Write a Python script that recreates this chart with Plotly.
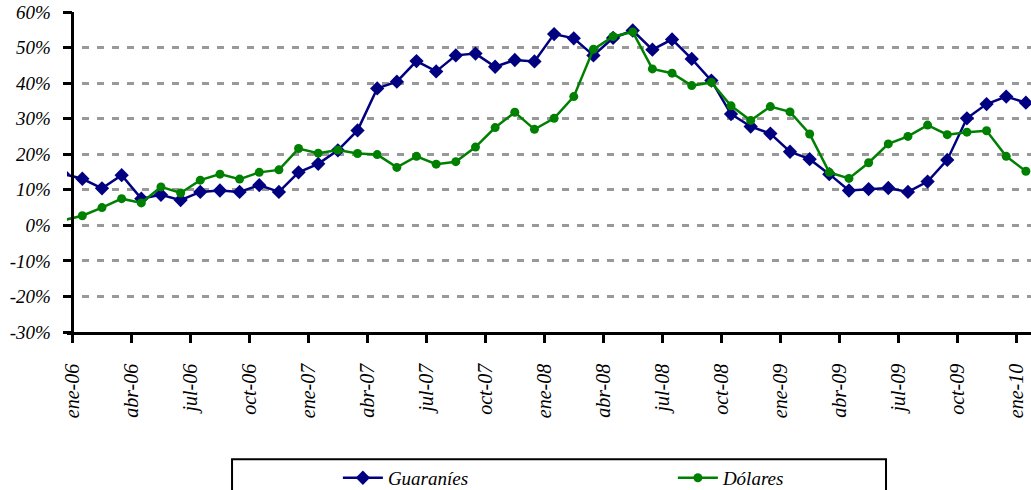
import plotly.graph_objects as go

months = ["dic-05",
          "ene-06", "feb-06", "mar-06", "abr-06", "may-06", "jun-06", "jul-06", "ago-06", "sep-06", "oct-06", "nov-06", "dic-06",
          "ene-07", "feb-07", "mar-07", "abr-07", "may-07", "jun-07", "jul-07", "ago-07", "sep-07", "oct-07", "nov-07", "dic-07",
          "ene-08", "feb-08", "mar-08", "abr-08", "may-08", "jun-08", "jul-08", "ago-08", "sep-08", "oct-08", "nov-08", "dic-08",
          "ene-09", "feb-09", "mar-09", "abr-09", "may-09", "jun-09", "jul-09", "ago-09", "sep-09", "oct-09", "nov-09", "dic-09",
          "ene-10"]

guaranies = [14.5,
             13.1, 10.4, 14.1, 7.5, 8.6, 7.1, 9.4, 9.8, 9.4, 11.3, 9.4, 14.9,
             17.3, 21.1, 26.7, 38.5, 40.4, 46.2, 43.3, 47.8, 48.3, 44.6, 46.5, 46.1,
             53.8, 52.6, 47.8, 52.7, 54.8, 49.4, 52.3, 46.8, 40.7, 31.3, 27.8, 25.8,
             20.7, 18.6, 14.4, 9.8, 10.2, 10.5, 9.4, 12.3, 18.4, 30.1, 34.1, 36.2,
             34.5]

dolares = [1.4,
           2.7, 5.0, 7.5, 6.3, 10.8, 9.1, 12.7, 14.4, 13.0, 14.9, 15.6, 21.6,
           20.3, 21.2, 20.2, 19.9, 16.3, 19.4, 17.2, 17.9, 22.0, 27.5, 31.8, 27.0,
           30.1, 36.2, 49.5, 53.1, 54.4, 44.0, 42.8, 39.3, 40.2, 33.6, 29.5, 33.4,
           31.9, 25.7, 14.9, 13.2, 17.6, 22.9, 25.0, 28.2, 25.5, 26.2, 26.6, 19.4,
           15.2]

x_tick_labels = ["ene-06", "abr-06", "jul-06", "oct-06", "ene-07", "abr-07", "jul-07", "oct-07",
                 "ene-08", "abr-08", "jul-08", "oct-08", "ene-09", "abr-09", "jul-09", "oct-09", "ene-10"]
y_tick_values = [-30, -20, -10, 0, 10, 20, 30, 40, 50, 60]
y_tick_labels = ["-30%", "-20%", "-10%", "0%", "10%", "20%", "30%", "40%", "50%", "60%"]

# month positions: each value centred in its month, ene-06 boundary at 0
x_pos = [i - 0.5 for i in range(len(months))]
x_tick_pos = [months.index(lbl) - 1 for lbl in x_tick_labels]

FONT = "Liberation Serif"

fig = go.Figure()
fig.add_trace(go.Scatter(
    x=x_pos, y=guaranies, name="Guaraníes", mode="lines+markers",
    line=dict(color="#000080", width=2.5),
    marker=dict(symbol="diamond", size=11, color="#000080"),
    text=months, hovertemplate="%{text}: %{y:.1f}%<extra>Guaraníes</extra>",
))
fig.add_trace(go.Scatter(
    x=x_pos, y=dolares, name="Dólares", mode="lines+markers",
    line=dict(color="#008000", width=2.5),
    marker=dict(symbol="circle", size=9, color="#008000"),
    text=months, hovertemplate="%{text}: %{y:.1f}%<extra>Dólares</extra>",
))

fig.update_layout(
    width=1031, height=490,
    margin=dict(l=67, r=0, t=12, b=158, autoexpand=False),
    paper_bgcolor="white", plot_bgcolor="white",
    font=dict(family=FONT, size=18, color="black", style="italic"),
    showlegend=True,
    legend=dict(
        orientation="h", x=0.281, xanchor="left", y=-0.456, yanchor="middle",
        font=dict(family=FONT, size=19, style="italic", color="black"),
        entrywidth=280, entrywidthmode="pixels", itemwidth=40,
        bgcolor="rgba(0,0,0,0)", borderwidth=0,
    ),
    xaxis=dict(
        range=[-0.28, 48.76],
        tickvals=x_tick_pos, ticktext=x_tick_labels,
        tickangle=-90,
        tickfont=dict(family=FONT, size=20, style="italic", color="black"),
        ticks="outside", ticklen=8, tickwidth=2.5, tickcolor="black",
        showline=True, linecolor="black", linewidth=2.5,
        showgrid=False, zeroline=False,
        ticklabelstandoff=13, automargin=False,
    ),
    yaxis=dict(
        range=[-30, 60],
        tickvals=y_tick_values, ticktext=y_tick_labels,
        tickfont=dict(family=FONT, size=19, style="italic", color="black"),
        ticks="outside", ticklen=9, tickwidth=2.5, tickcolor="black",
        showline=True, linecolor="black", linewidth=2.5,
        showgrid=True, gridcolor="#999999", gridwidth=2.5, griddash="7px,8px",
        zeroline=False,
        anchor="free", position=0.0057,
        ticklabelstandoff=8, automargin=False,
    ),
    shapes=[
        dict(
            type="rect", xref="x", yref="paper", layer="between",
            x0=-0.3, x1=0, y0=0, y1=1,
            line=dict(width=0), fillcolor="white",
        ),
        dict(
            type="rect", xref="paper", yref="paper",
            x0=0.1712, x1=0.8496, y0=-0.53, y1=-0.398,
            line=dict(color="black", width=2), fillcolor="rgba(0,0,0,0)",
        ),
    ],
)

fig.write_html(
    "out.html",
    config={"displayModeBar": False},
    post_script="document.body.style.margin='0';document.body.style.overflow='hidden';",
)
